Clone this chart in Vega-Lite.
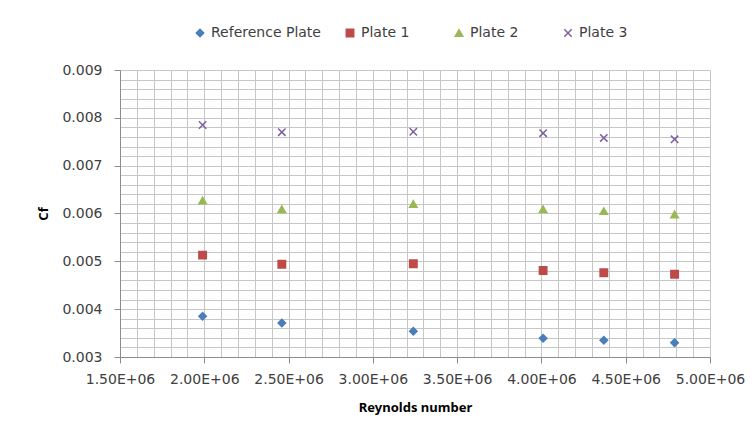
{
  "$schema": "https://vega.github.io/schema/vega-lite/v6.json",
  "autosize": "none",
  "width": 590,
  "height": 287,
  "padding": {"left": 120, "top": 70, "right": 45, "bottom": 85},
  "background": "white",
  "config": {"font": "DejaVu Sans", "view": {"stroke": null}},
  "data": {
    "values": [
      {"Re": 1990000, "Cf": 0.00385, "series": "Reference Plate"},
      {"Re": 2460000, "Cf": 0.00371, "series": "Reference Plate"},
      {"Re": 3240000, "Cf": 0.00354, "series": "Reference Plate"},
      {"Re": 4010000, "Cf": 0.00339, "series": "Reference Plate"},
      {"Re": 4370000, "Cf": 0.00335, "series": "Reference Plate"},
      {"Re": 4790000, "Cf": 0.00330, "series": "Reference Plate"},
      {"Re": 1990000, "Cf": 0.00513, "series": "Plate 1"},
      {"Re": 2460000, "Cf": 0.00494, "series": "Plate 1"},
      {"Re": 3240000, "Cf": 0.00495, "series": "Plate 1"},
      {"Re": 4010000, "Cf": 0.00481, "series": "Plate 1"},
      {"Re": 4370000, "Cf": 0.00476, "series": "Plate 1"},
      {"Re": 4790000, "Cf": 0.00473, "series": "Plate 1"},
      {"Re": 1990000, "Cf": 0.00627, "series": "Plate 2"},
      {"Re": 2460000, "Cf": 0.00609, "series": "Plate 2"},
      {"Re": 3240000, "Cf": 0.00620, "series": "Plate 2"},
      {"Re": 4010000, "Cf": 0.00609, "series": "Plate 2"},
      {"Re": 4370000, "Cf": 0.00605, "series": "Plate 2"},
      {"Re": 4790000, "Cf": 0.00598, "series": "Plate 2"},
      {"Re": 1990000, "Cf": 0.00785, "series": "Plate 3"},
      {"Re": 2460000, "Cf": 0.00770, "series": "Plate 3"},
      {"Re": 3240000, "Cf": 0.00771, "series": "Plate 3"},
      {"Re": 4010000, "Cf": 0.00768, "series": "Plate 3"},
      {"Re": 4370000, "Cf": 0.00758, "series": "Plate 3"},
      {"Re": 4790000, "Cf": 0.00755, "series": "Plate 3"}
    ]
  },
  "mark": {"type": "point", "filled": true, "size": 55, "strokeWidth": 1.5, "opacity": 1},
  "encoding": {
    "x": {
      "field": "Re",
      "type": "quantitative",
      "scale": {"domain": [1500000, 5000000], "nice": false, "zero": false},
      "axis": {
        "title": "Reynolds number",
        "titleFont": "Noto Sans",
        "titleFontWeight": "bold",
        "titleFontSize": 13,
        "titleColor": "#000000",
        "titlePadding": 15,
        "values": [1500000, 1600000, 1700000, 1800000, 1900000, 2000000, 2100000, 2200000, 2300000, 2400000, 2500000, 2600000, 2700000, 2800000, 2900000, 3000000, 3100000, 3200000, 3300000, 3400000, 3500000, 3600000, 3700000, 3800000, 3900000, 4000000, 4100000, 4200000, 4300000, 4400000, 4500000, 4600000, 4700000, 4800000, 4900000, 5000000],
        "labelExpr": "datum.value % 500000 === 0 ? format(datum.value / 1000000, '.2f') + 'E+06' : ''",
        "labelOverlap": false,
        "labelFlush": false,
        "labelFontSize": 14,
        "labelColor": "#404040",
        "labelPadding": 9,
        "grid": true,
        "gridColor": "#c6c6c6",
        "gridWidth": 1,
        "domainColor": "#8c8c8c",
        "tickColor": "#8c8c8c",
        "tickSize": 6,
        "tickOpacity": {"condition": {"test": "datum.value % 500000 === 0", "value": 1}, "value": 0}
      }
    },
    "y": {
      "field": "Cf",
      "type": "quantitative",
      "scale": {"domain": [0.003, 0.009], "nice": false, "zero": false},
      "axis": {
        "title": "Cf",
        "titleFont": "Noto Sans",
        "titleFontWeight": "bold",
        "titleFontSize": 13,
        "titleColor": "#000000",
        "titlePadding": 11,
        "values": [0.003, 0.0032, 0.0034, 0.0036, 0.0038, 0.004, 0.0042, 0.0044, 0.0046, 0.0048, 0.005, 0.0052, 0.0054, 0.0056, 0.0058, 0.006, 0.0062, 0.0064, 0.0066, 0.0068, 0.007, 0.0072, 0.0074, 0.0076, 0.0078, 0.008, 0.0082, 0.0084, 0.0086, 0.0088, 0.009],
        "labelExpr": "round(datum.value * 10000) % 10 === 0 ? format(datum.value, '.3f') : ''",
        "labelOverlap": false,
        "labelFlush": false,
        "labelFontSize": 14,
        "labelColor": "#404040",
        "labelPadding": 12,
        "grid": true,
        "gridColor": "#c6c6c6",
        "gridWidth": 1,
        "domainColor": "#8c8c8c",
        "tickColor": "#8c8c8c",
        "tickSize": 6,
        "tickOpacity": {"condition": {"test": "round(datum.value * 10000) % 10 === 0", "value": 1}, "value": 0}
      }
    },
    "color": {
      "field": "series",
      "type": "nominal",
      "scale": {
        "domain": ["Reference Plate", "Plate 1", "Plate 2", "Plate 3"],
        "range": ["#4a7ebb", "#be4b48", "#98b954", "#7d60a0"]
      },
      "legend": {
        "title": null,
        "orient": "none",
        "direction": "horizontal",
        "legendX": 73,
        "legendY": -44,
        "labelFontSize": 14,
        "labelColor": "#404040",
        "labelExpr": "datum.label === 'Reference Plate' || datum.label === 'Plate 3' ? datum.label : datum.label + '\u2800\u2800'",
        "columnPadding": 22,
        "symbolSize": 55,
        "symbolStrokeWidth": 1.5
      }
    },
    "stroke": {
      "field": "series",
      "type": "nominal",
      "scale": {
        "domain": ["Reference Plate", "Plate 1", "Plate 2", "Plate 3"],
        "range": ["#4a7ebb", "#be4b48", "#98b954", "#7d60a0"]
      },
      "legend": null
    },
    "shape": {
      "field": "series",
      "type": "nominal",
      "scale": {
        "domain": ["Reference Plate", "Plate 1", "Plate 2", "Plate 3"],
        "range": ["diamond", "square", "triangle-up", "M-1,-1L1,1M1,-1L-1,1"]
      },
      "legend": null
    }
  }
}
